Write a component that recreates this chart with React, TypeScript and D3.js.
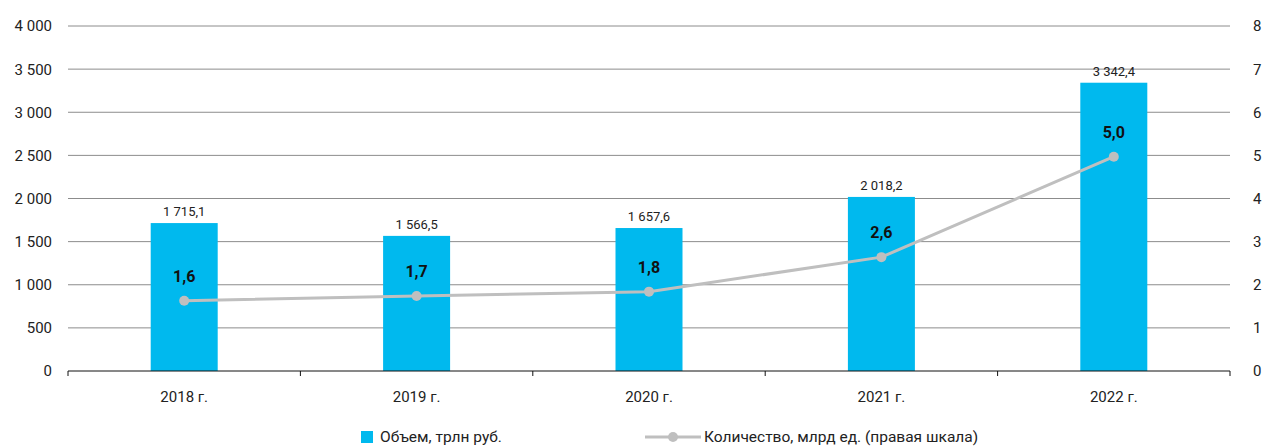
import React from "react";
import * as d3 from "d3";

const categories = ["2018 г.", "2019 г.", "2020 г.", "2021 г.", "2022 г."];
const volume = [1715.1, 1566.5, 1657.6, 2018.2, 3342.4];
const count = [1.63, 1.74, 1.84, 2.64, 4.97];
const leftTicks = [0, 500, 1000, 1500, 2000, 2500, 3000, 3500, 4000];
const rightTicks = [0, 1, 2, 3, 4, 5, 6, 7, 8];
const legendLabels = ["Объем, трлн руб.", "Количество, млрд ед. (правая шкала)"];

const W = 1262, H = 447;
const left = 68, right = 1230, top = 26, bottom = 371;
const font = "Roboto, 'Open Sans', sans-serif";

const fmtThousands = (v: number) => {
  const s = Math.round(v).toString();
  return s.length > 3 ? s.slice(0, s.length - 3) + " " + s.slice(-3) : s;
};
const fmtVol = (v: number) => {
  const [i, f] = v.toFixed(1).split(".");
  return fmtThousands(+i) + "," + f;
};
const fmtCnt = (v: number) => v.toFixed(1).replace(".", ",");

export default function App() {
  const x = d3.scaleBand<string>().domain(categories).range([left, right]);
  const yL = d3.scaleLinear().domain([0, 4000]).range([bottom, top]);
  const yR = d3.scaleLinear().domain([0, 8]).range([bottom, top]);
  const barW = 67;
  const cx = (c: string) => (x(c) as number) + x.bandwidth() / 2;
  const line = d3
    .line<number>()
    .x((_, i) => cx(categories[i]))
    .y((d) => yR(d));

  return (
    <svg width={W} height={H} style={{ position: "absolute", left: 0, top: 0, background: "#fff" }} fontFamily={font}>
      {leftTicks.map((t) =>
        t === 0 ? null : (
          <line key={"g" + t} x1={left} x2={right} y1={yL(t)} y2={yL(t)} stroke="#8c8c8c" strokeWidth={1} />
        )
      )}
      {leftTicks.map((t) => (
        <text key={"l" + t} x={52} y={yL(t)} dy="0.36em" textAnchor="end" fontSize={15} fill="#222">
          {fmtThousands(t)}
        </text>
      ))}
      {rightTicks.map((t) => (
        <text key={"r" + t} x={1253} y={yR(t)} dy="0.36em" textAnchor="start" fontSize={15} fill="#222">
          {t}
        </text>
      ))}
      {categories.map((c, i) => (
        <rect key={"b" + c} x={cx(c) - barW / 2} y={yL(volume[i])} width={barW} height={bottom - yL(volume[i])} fill="#00B9EE" />
      ))}
      <line x1={left} x2={right} y1={bottom} y2={bottom} stroke="#111" strokeWidth={1} />
      {[...categories.map((c) => x(c) as number), right].map((p, i) => (
        <line key={"t" + i} x1={p} x2={p} y1={bottom} y2={bottom + 5} stroke="#111" strokeWidth={1} />
      ))}
      {categories.map((c) => (
        <text key={"c" + c} x={cx(c)} y={402} textAnchor="middle" fontSize={15} fill="#222">
          {c}
        </text>
      ))}
      {categories.map((c, i) => (
        <text key={"v" + c} x={cx(c)} y={yL(volume[i]) - 7} textAnchor="middle" fontSize={13} fill="#222">
          {fmtVol(volume[i])}
        </text>
      ))}
      <path d={line(count) || ""} fill="none" stroke="#BFBFBF" strokeWidth={3} />
      {count.map((v, i) => (
        <circle key={"p" + i} cx={cx(categories[i])} cy={yR(v)} r={5} fill="#BFBFBF" />
      ))}
      {count.map((v, i) => (
        <text key={"n" + i} x={cx(categories[i])} y={yR(v) - 19} textAnchor="middle" fontSize={16} fontWeight="bold" fill="#111">
          {fmtCnt(v)}
        </text>
      ))}
      <rect x={361} y={431} width={12} height={12} fill="#00B9EE" />
      <text x={380} y={442} fontSize={15.5} fill="#222">{legendLabels[0]}</text>
      <line x1={645} x2={701} y1={437} y2={437} stroke="#BFBFBF" strokeWidth={3} />
      <circle cx={673} cy={437} r={5} fill="#BFBFBF" />
      <text x={704} y={442} fontSize={15.5} fill="#222">{legendLabels[1]}</text>
    </svg>
  );
}
